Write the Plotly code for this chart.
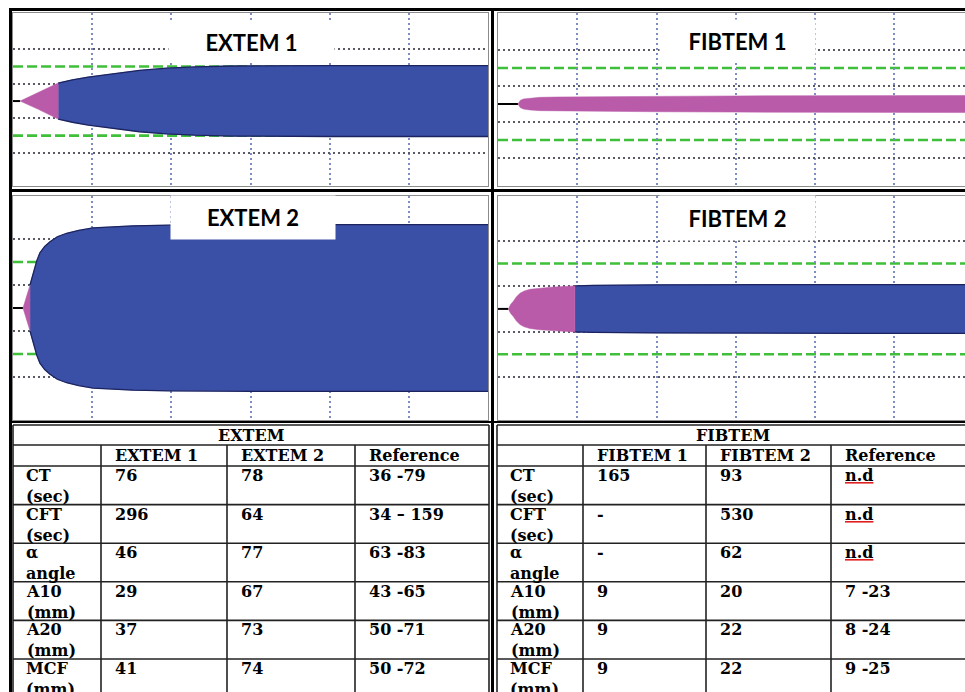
import plotly.graph_objects as go

# ---------------- DATA ----------------
# ROTEM tracings: time (min) and clot amplitude (mm)
extem1_t = [0.9, 2.0, 3.2, 4.5, 5.7, 7.5, 9.5, 12.9, 16, 19.4, 23, 27.8, 33, 40, 50, 60.5]
extem1_a = [0, 4.6, 9.6, 15, 20.8, 24.5, 27.7, 32, 35.5, 38, 39.5, 40.5, 41, 41, 41, 41]

extem2_t = [1.26, 1.6, 1.9, 2.15, 2.56, 3.0, 3.4, 4.0, 4.67, 5.6, 6.78, 8.3, 10.1, 15.2, 19.8, 30, 45, 60.5]
extem2_a = [0, 8, 14, 20, 31, 41, 48, 53.5, 57.6, 62, 65, 67.5, 69.6, 71.5, 72, 72.5, 72.5, 72.5]

fibtem1_t = [2.52, 2.8, 3.2, 4.0, 5.3, 7.5, 10, 20, 30, 40, 50, 59.5]
fibtem1_a = [0, 4, 5.6, 6.6, 7.4, 7.8, 8, 8.6, 9, 9.3, 9.5, 9.5]

fibtem2_t = [1.3, 1.6, 1.93, 2.3, 2.77, 3.3, 4.03, 5.2, 6.6, 8.2, 9.7, 12, 20, 30, 45, 59.5]
fibtem2_a = [0, 4, 6.7, 10.5, 13.8, 15.8, 17.3, 18.4, 19.1, 19.7, 20.3, 20.7, 21.2, 21.5, 21.5, 21.5]

panel_titles = ["EXTEM 1", "FIBTEM 1", "EXTEM 2", "FIBTEM 2"]
cft_threshold_mm = 20          # amplitude at which the tracing turns from pink to blue
reference_lines_mm = [-20, 20]  # green dashed lines (half amplitude)
time_grid = [10, 20, 30, 40, 50]
amp_grid = [-30, -10, 10, 30]

# Tables
row_labels = ["CT<br>(sec)", "CFT<br>(sec)", "α<br>angle", "A10<br>(mm)", "A20<br>(mm)", "MCF<br>(mm)"]
extem_title = "EXTEM"
extem_headers = ["EXTEM 1", "EXTEM 2", "Reference"]
extem1_vals = ["76", "296", "46", "29", "37", "41"]
extem2_vals = ["78", "64", "77", "67", "73", "74"]
extem_ref = ["36 -79", "34 – 159", "63 -83", "43 -65", "50 -71", "50 -72"]

fibtem_title = "FIBTEM"
fibtem_headers = ["FIBTEM 1", "FIBTEM 2", "Reference"]
fibtem1_vals = ["165", "-", "-", "9", "9", "9"]
fibtem2_vals = ["93", "530", "62", "20", "22", "22"]
fibtem_ref = ["n.d", "n.d", "n.d", "7 -23", "8 -24", "9 -25"]

# ---------------- STYLE / LAYOUT ----------------
W, H = 965, 692
PINK = "#b95ba9"
BLUE = "#3a4fa6"
EDGE = "#1c2460"
GREEN = "#3fbf3a"


def fx(p):
    return p / W


def fy(p):
    return 1 - p / H


panels = [
    dict(x=(13, 488), y=(13, 186), yr=[-49.1, 50.9], xr=[0, 60]),
    dict(x=(498, 965), y=(13, 186), yr=[-45.5, 50.5], xr=[0, 58.9]),
    dict(x=(13, 488), y=(196, 420), yr=[-48.7, 48.7], xr=[0, 60]),
    dict(x=(498, 965), y=(196, 420), yr=[-49.0, 49.8], xr=[0, 58.9]),
]
title_boxes = [  # x domain, y domain, width, height
    (0.503, 0.832, 165, 40),
    (0.513, 0.838, 155, 42),
    (0.505, 0.906, 164, 43),
    (0.513, 0.902, 155, 44),
]
tracings = [(extem1_t, extem1_a), (fibtem1_t, fibtem1_a), (extem2_t, extem2_a), (fibtem2_t, fibtem2_a)]

fig = go.Figure()
layout = dict(width=W, height=H, margin=dict(l=0, r=0, t=0, b=0),
              paper_bgcolor="white", plot_bgcolor="white", showlegend=False)
shapes = []
annotations = []

for i, (p, (t, a)) in enumerate(zip(panels, tracings)):
    n = i + 1
    xa = "x" if n == 1 else f"x{n}"
    ya = "y" if n == 1 else f"y{n}"
    layout[f"xaxis{'' if n == 1 else n}"] = dict(
        domain=[fx(p["x"][0]), fx(p["x"][1])], range=p["xr"], anchor=ya,
        tickvals=time_grid, showticklabels=False, ticks="", showgrid=True,
        gridcolor="#7d8cc4", griddash="2px,3px", gridwidth=1.6, zeroline=False,
        showline=True, mirror=True, linecolor="#8c8c8c", linewidth=1, fixedrange=True)
    layout[f"yaxis{'' if n == 1 else n}"] = dict(
        domain=[fy(p["y"][1]), fy(p["y"][0])], range=p["yr"], anchor=xa,
        tickvals=amp_grid, showticklabels=False, ticks="", showgrid=True,
        gridcolor="#5a5a66", griddash="2px,3px", gridwidth=1.6, zeroline=False,
        showline=True, mirror=True, linecolor="#8c8c8c", linewidth=1, fixedrange=True)

    # green dashed reference lines
    for v in reference_lines_mm:
        shapes.append(dict(type="line", xref=f"{xa} domain", yref=ya, x0=0, x1=1, y0=v, y1=v,
                           line=dict(color=GREEN, width=2.6, dash="10px,4px"), layer="below"))

    # baseline before clot start
    fig.add_trace(go.Scatter(x=[0, t[0]], y=[0, 0], mode="lines", xaxis=xa, yaxis=ya,
                             line=dict(color="black", width=2), hoverinfo="skip"))

    # split pink / blue at threshold
    split = next((k for k, v in enumerate(a) if v >= cft_threshold_mm), len(a) - 1)
    pink_t, pink_a = t[:split + 1], a[:split + 1]
    blue_t, blue_a = t[split:], a[split:]
    if split < len(a) - 1:
        fig.add_trace(go.Scatter(
            x=blue_t + blue_t[::-1], y=[v / 2 for v in blue_a] + [-v / 2 for v in blue_a[::-1]],
            mode="lines", fill="toself", fillcolor=BLUE, line=dict(color=BLUE, width=0.5),
            xaxis=xa, yaxis=ya, hoverinfo="skip"))
        for sgn in (1, -1):
            fig.add_trace(go.Scatter(x=blue_t, y=[sgn * v / 2 for v in blue_a], mode="lines",
                                     line=dict(color=EDGE, width=1.3),
                                     xaxis=xa, yaxis=ya, hoverinfo="skip"))
    fig.add_trace(go.Scatter(
        x=pink_t + pink_t[::-1], y=[v / 2 for v in pink_a] + [-v / 2 for v in pink_a[::-1]],
        mode="lines", fill="toself", fillcolor=PINK, line=dict(color=PINK, width=0.5),
        xaxis=xa, yaxis=ya, hoverinfo="skip"))

    bx, by, bw, bh = title_boxes[i]
    annotations.append(dict(text=f"<b>{panel_titles[i]}</b>", xref=f"{xa} domain", yref=f"{ya} domain",
                            x=bx, y=by, xanchor="center", yanchor="middle", showarrow=False,
                            width=bw, height=bh, bgcolor="white", borderpad=0,
                            font=dict(family="Lato", size=22, color="black")))

# ---------------- TABLES ----------------
TFONT = dict(family="DejaVu Serif", size=16, color="black")
row_edges = [0, 20, 41] + [41 + 38.6 * (k + 1) for k in range(len(row_labels))]
tables = [
    dict(n=5, dom=(11, 491), xr=[-2, 478], edges=[0, 88, 214, 342, 476], title=extem_title,
         heads=extem_headers, cols=[extem1_vals, extem2_vals, extem_ref], cx=238),
    dict(n=6, dom=(495, 965), xr=[-2, 468], edges=[0, 86, 209, 334, 480], title=fibtem_title,
         heads=fibtem_headers, cols=[fibtem1_vals, fibtem2_vals, fibtem_ref], cx=236),
]
for tb in tables:
    n = tb["n"]
    xa, ya = f"x{n}", f"y{n}"
    layout[f"xaxis{n}"] = dict(domain=[fx(tb["dom"][0]), fx(tb["dom"][1])], range=tb["xr"],
                               anchor=ya, visible=False, fixedrange=True)
    layout[f"yaxis{n}"] = dict(domain=[0, fy(423)], range=[267, -2], anchor=xa,
                               visible=False, fixedrange=True)
    e = tb["edges"]
    ln = dict(color="#222", width=1.6)
    for r in row_edges:
        shapes.append(dict(type="line", xref=xa, yref=ya, x0=e[0], x1=e[-1], y0=r, y1=r, line=ln))
    for k, c in enumerate(e):
        y0 = 0 if k in (0, len(e) - 1) else row_edges[1]
        shapes.append(dict(type="line", xref=xa, yref=ya, x0=c, x1=c, y0=y0, y1=400, line=ln))
    annotations.append(dict(text=f"<b>{tb['title']}</b>", xref=xa, yref=ya, x=tb["cx"], y=row_edges[0] + 0.5,
                            xanchor="center", yanchor="top", showarrow=False, borderpad=0, font=TFONT))
    for k, h in enumerate(tb["heads"]):
        annotations.append(dict(text=f"<b>{h}</b>", xref=xa, yref=ya, x=e[k + 1] + 13, y=row_edges[1] + 0.5,
                                xanchor="left", yanchor="top", showarrow=False, borderpad=0, font=TFONT))
    for r, lab in enumerate(row_labels):
        ytop = row_edges[2 + r] - 1
        annotations.append(dict(text=f"<b>{lab}</b>", xref=xa, yref=ya, x=12, y=ytop, xanchor="left",
                                yanchor="top", align="left", showarrow=False, borderpad=0, font=TFONT))
        for k, col in enumerate(tb["cols"]):
            v = col[r]
            txt = f"<b>{v}</b>"
            if v == "n.d":
                txt = (f"<b><span style='text-decoration:underline;fill:#e02020'>"
                       f"<span style='fill:#000000'>{v}</span></span></b>")
            annotations.append(dict(text=txt, xref=xa, yref=ya, x=e[k + 1] + 13, y=ytop,
                                    xanchor="left", yanchor="top", showarrow=False, borderpad=0, font=TFONT))

# thick black frame lines
frame = dict(color="black", width=3)
for xp in (10.5, 492.5):
    shapes.append(dict(type="line", xref="paper", yref="paper", x0=fx(xp), x1=fx(xp), y0=0, y1=fy(8.5), line=frame))
for yp, w in ((9.5, 3), (190.5, 3), (422, 2)):
    shapes.append(dict(type="line", xref="paper", yref="paper", x0=fx(9), x1=1, y0=fy(yp), y1=fy(yp),
                       line=dict(color="black", width=w)))

layout["shapes"] = shapes
layout["annotations"] = annotations
fig.update_layout(**layout)
fig.write_html("out.html", config={"displayModeBar": False},
               post_script="document.body.style.margin='0px';")
